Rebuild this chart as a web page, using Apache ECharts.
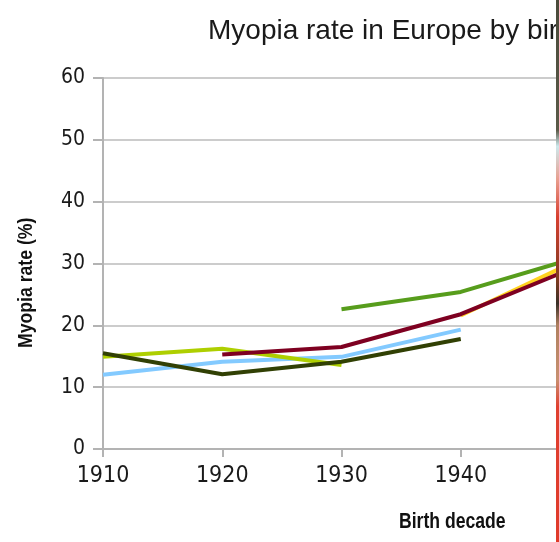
<!DOCTYPE html>
<html><head><meta charset="utf-8">
<script src="https://cdn.jsdelivr.net/npm/echarts@6/dist/echarts.min.js"></script>
<style>html,body{margin:0;padding:0;background:#fff}#c{width:559px;height:542px}</style>
</head><body><div id="c"></div>
<script>
const years = [1910, 1920, 1930, 1940, 1950];
const yTicks = [0, 10, 20, 30, 40, 50, 60];
const lightBlue = [12.0, 14.1, 14.9, 19.3, null];
const darkOlive = [15.5, 12.1, 14.1, 17.8, null];
const yellowGreen = [14.9, 16.2, 13.6, null, null];
const maroon = [null, 15.3, 16.5, 21.8, 29.7];
const green = [null, null, 22.6, 25.4, 31.1];
const yellow = [null, null, null, 21.6, 30.7];

const seriesDefs = [
  {name: 'A', values: lightBlue, color: '#83caff'},
  {name: 'B', values: yellowGreen, color: '#aecf00'},
  {name: 'C', values: darkOlive, color: '#314004'},
  {name: 'D', values: yellow, color: '#ffd320'},
  {name: 'E', values: maroon, color: '#7e0021'},
  {name: 'F', values: green, color: '#579d1c'}
];

const chart = echarts.init(document.getElementById('c'), null, {renderer: 'canvas'});
chart.setOption({
  animation: false,
  backgroundColor: '#ffffff',
  title: {
    text: 'Myopia rate in Europe by birth decade',
    left: 208, top: 17, padding: 0,
    textStyle: {fontFamily: 'Liberation Sans', fontSize: 28, fontWeight: 'normal', color: '#1a1a1a'}
  },
  grid: {left: 103, top: 78, width: 477, height: 371, containLabel: false, outerBoundsMode: 'none'},
  xAxis: {
    type: 'value', min: 1910, max: 1950, interval: 10,
    axisLine: {show: true, lineStyle: {color: '#b3b3b3', width: 2}},
    axisTick: {show: true, length: 8, lineStyle: {color: '#b3b3b3', width: 2}},
    splitLine: {show: false},
    axisLabel: {margin: 16, color: '#1a1a1a', fontFamily: 'DejaVu Sans Condensed', fontSize: 23,
      hideOverlap: false, formatter: v => String(v)}
  },
  yAxis: {
    type: 'value', min: 0, max: 60, interval: 10,
    axisLine: {show: true, lineStyle: {color: '#b3b3b3', width: 2}},
    axisTick: {show: true, length: 10, lineStyle: {color: '#b3b3b3', width: 2}},
    splitLine: {show: true, lineStyle: {color: '#cccccc', width: 2}},
    axisLabel: {margin: 18, color: '#1a1a1a', fontFamily: 'DejaVu Sans Condensed', fontSize: 21,
      formatter: v => yTicks.includes(v) ? String(v) : ''}
  },
  graphic: [
    {type: 'text', x: 16, y: 348, rotation: Math.PI / 2, scaleX: 0.84, scaleY: 1,
      style: {text: 'Myopia rate (%)', font: 'bold 21px "Liberation Sans"', fill: '#111',
        textAlign: 'left', textVerticalAlign: 'top'}},
    {type: 'text', x: 399, y: 511, scaleX: 0.8, scaleY: 1,
      style: {text: 'Birth decade', font: 'bold 22px "Liberation Sans"', fill: '#111',
        textAlign: 'left', textVerticalAlign: 'top'}},
    {type: 'rect', shape: {x: 556, y: 0, width: 3, height: 542}, z: 100,
      style: {fill: new echarts.graphic.LinearGradient(0, 0, 0, 1, [
        {offset: 0, color: '#4a4a3a'}, {offset: 0.24, color: '#5a5a48'},
        {offset: 0.27, color: '#cde8ec'}, {offset: 0.33, color: '#e8a090'},
        {offset: 0.4, color: '#d84030'}, {offset: 0.52, color: '#7a3a20'},
        {offset: 0.56, color: '#3a3028'}, {offset: 0.6, color: '#b08060'},
        {offset: 0.7, color: '#c89070'}, {offset: 0.75, color: '#e04030'},
        {offset: 1, color: '#e03a2a'}])}}
  ],
  series: seriesDefs.map(s => ({
    name: s.name, type: 'line', showSymbol: false, symbol: 'none',
    data: years.map((y, i) => [y, s.values[i]]),
    lineStyle: {color: s.color, width: 4},
    itemStyle: {color: s.color}
  }))
});
</script></body></html>
